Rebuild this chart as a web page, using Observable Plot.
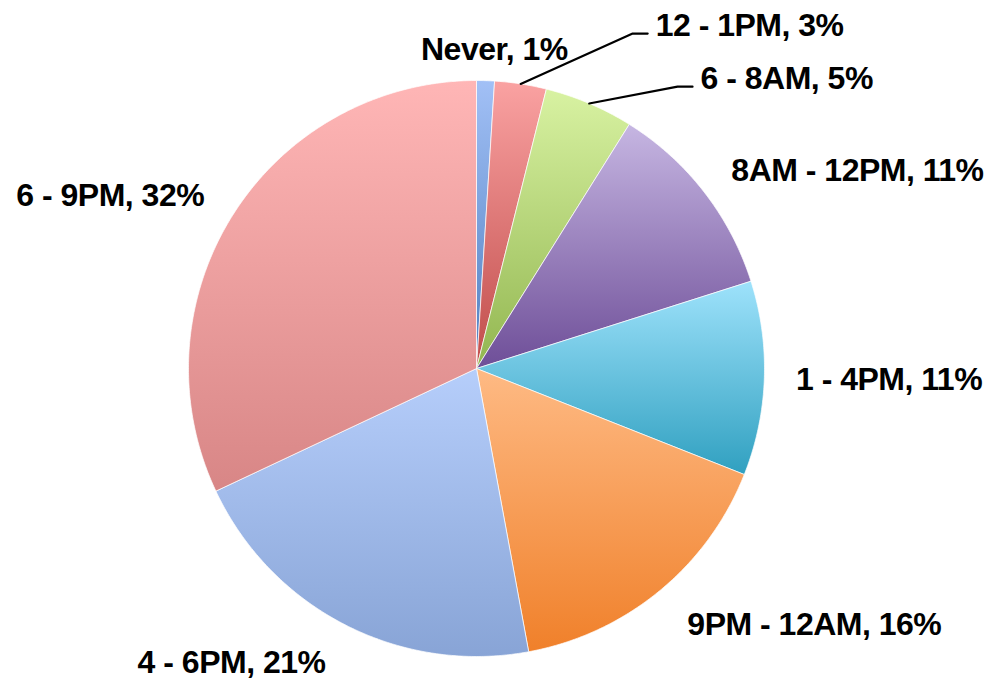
<!DOCTYPE html>
<html>
<head>
<meta charset="utf-8">
<script src="https://cdn.jsdelivr.net/npm/d3@7"></script>
<script src="https://cdn.jsdelivr.net/npm/@observablehq/plot@0.6"></script>
<style>
  html, body { margin: 0; padding: 0; background: #fff; }
</style>
</head>
<body>
<div id="chart"></div>
<script>
// ---- data ----
const categories = ["Never", "12 - 1PM", "6 - 8AM", "8AM - 12PM", "1 - 4PM", "9PM - 12AM", "4 - 6PM", "6 - 9PM"];
const values = [1.0, 2.9, 5.0, 11.2, 10.9, 16.1, 20.9, 32.0];
const percentLabels = ["1%", "3%", "5%", "11%", "11%", "16%", "21%", "32%"];
const topColors = ["#a2c0f6", "#faa2a2", "#d8f2a2", "#c6b6e2", "#9ee2fb", "#feba84", "#b6cefb", "#ffb6b6"];
const bottomColors = ["#4f7fbf", "#c04c4a", "#92b650", "#6e4e98", "#30a0c0", "#f0802a", "#88a4d6", "#d88686"];

// ---- layout ----
const W = 993, H = 679;
const cx = 476, cy = 368, R = 288;
const labelRadius = 1.12;
const labelOverrides = {
  0: {angle: 3.2, radius: 1.11, anchor: "middle"},
  1: {angle: 25.0, radius: 1.283, leader: true},
  2: {angle: 35.5, radius: 1.202, leader: true},
  4: {radius: 1.11},
  5: {radius: 1.153},
  6: {radius: 1.148}
};
const tail = 15 / R;

const total = d3.sum(values);
const ends = d3.cumsum(values);
const rad = d => d / 180 * Math.PI;
const polar = (angDeg, r) => ({x: r * Math.sin(rad(angDeg)), y: r * Math.cos(rad(angDeg))});

const slices = categories.map((c, i) => {
  const a0 = (ends[i] - values[i]) / total * 360;
  const a1 = ends[i] / total * 360;
  const pts = [{x: 0, y: 0}];
  const n = Math.max(4, Math.ceil((a1 - a0) / 0.5));
  for (let k = 0; k <= n; k++) pts.push(polar(a0 + (a1 - a0) * k / n, 1));
  pts.push({x: 0, y: 0});
  return {name: c, a0, a1, mid: (a0 + a1) / 2, pts, i};
});

const marks = [];
slices.forEach(s => {
  marks.push(Plot.line(s.pts, {
    x: "x", y: "y", fill: `url(#grad${s.i})`,
    stroke: "white", strokeWidth: 1, strokeOpacity: 0.7, strokeLinejoin: "round"
  }));
});

slices.forEach(s => {
  const o = labelOverrides[s.i] || {};
  const ang = o.angle ?? s.mid;
  const rr = o.radius ?? labelRadius;
  let p = polar(ang, rr);
  const text = `${s.name}, ${percentLabels[s.i]}`;
  let anchor = o.anchor ?? (Math.abs(p.x) < 0.12 ? "middle" : p.x > 0 ? "start" : "end");
  if (o.leader) {
    const start = polar(s.mid, 1.0);
    const end = {x: p.x + tail, y: p.y};
    marks.push(Plot.line([start, p, end], {x: "x", y: "y", stroke: "black", strokeWidth: 2.2}));
    p = end;
    anchor = "start";
  }
  marks.push(Plot.text([{...p, text}], {
    x: "x", y: "y", text: "text",
    textAnchor: anchor, lineAnchor: "middle",
    dx: o.leader ? 8 : 0,
    dy: o.leader ? -8 : 0,
    fontSize: 32, fontWeight: "bold", fill: "black",
    fontFamily: "'Liberation Sans', Arial, sans-serif"
  }));
});

const svg = Plot.plot({
  width: W, height: H,
  margin: 0,
  x: {domain: [-cx / R, (W - cx) / R], axis: null},
  y: {domain: [-(H - cy) / R, cy / R], axis: null},
  style: {background: "white"},
  marks
});

const defs = d3.select(svg).insert("defs", ":first-child");
slices.forEach(s => {
  const g = defs.append("linearGradient")
    .attr("id", `grad${s.i}`)
    .attr("x1", 0).attr("y1", 0).attr("x2", 0).attr("y2", 1);
  g.append("stop").attr("offset", "0%").attr("stop-color", topColors[s.i]);
  g.append("stop").attr("offset", "100%").attr("stop-color", bottomColors[s.i]);
});
d3.select(svg).selectAll("text").style("letter-spacing", "-0.5px");

document.getElementById("chart").appendChild(svg);
</script>
</body>
</html>
